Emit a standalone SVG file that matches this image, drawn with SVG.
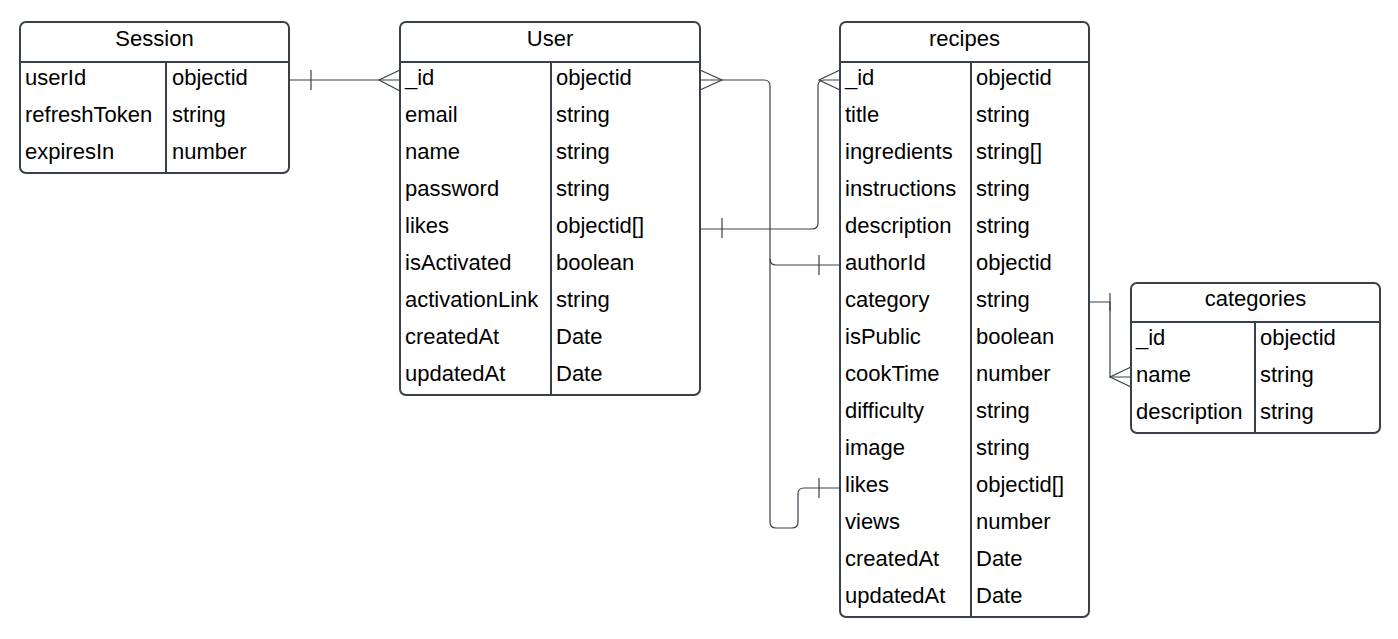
<svg xmlns="http://www.w3.org/2000/svg" width="1398" height="639" viewBox="0 0 1398 639">
<style>
.box{fill:#ffffff;stroke:#3a4049;stroke-width:2}
.ln{stroke:#3a4049;stroke-width:2;fill:none}
.t{font-family:"Liberation Sans",Arial,sans-serif;font-size:22px;fill:#000000}
.h{font-family:"Liberation Sans",Arial,sans-serif;font-size:22px;fill:#000000;text-anchor:middle}
.c{stroke:#3a4049;stroke-width:1.2;fill:none}
</style>
<rect x="0" y="0" width="1398" height="639" fill="#ffffff"/>
<g id="connectors">
  <path class="c" d="M289,80 H400"/>
  <path class="c" d="M311,70 V90"/>
  <path class="c" d="M400,70 L379,80 L400,91"/>
  <path class="c" d="M700,70 L722,80 L700,90"/>
  <path class="c" d="M700,80 H764 Q770,80 770,86 V259 Q770,265 776,265 H840"/>
  <path class="c" d="M819,255 V275"/>
  <path class="c" d="M770,259 V522 Q770,528 776,528 H792 Q798,528 798,522 V494 Q798,488 804,488 H840"/>
  <path class="c" d="M819,478 V498"/>
  <path class="c" d="M700,229 H812 Q818,229 818,223 V86 Q818,80 824,80 H840"/>
  <path class="c" d="M722,218 V238"/>
  <path class="c" d="M840,70 L819,80 L840,90"/>
  <path class="c" d="M1089,302 H1110 V377 H1131"/>
  <path class="c" d="M1110,293 V311"/>
  <path class="c" d="M1131,367 L1110,377 L1131,387"/>
</g>
<g id="Session">
  <rect class="box" x="20" y="22" width="269" height="151" rx="6"/>
  <path class="ln" d="M20,62 H289 M166,62 V173"/>
  <text class="h" x="154.5" y="46">Session</text>
  <text class="t" x="25" y="85">userId</text><text class="t" x="172" y="85">objectid</text>
  <text class="t" x="25" y="122">refreshToken</text><text class="t" x="172" y="122">string</text>
  <text class="t" x="25" y="159">expiresIn</text><text class="t" x="172" y="159">number</text>
</g>
<g id="User">
  <rect class="box" x="400" y="22" width="300" height="373" rx="6"/>
  <path class="ln" d="M400,62 H700 M551,62 V395"/>
  <text class="h" x="550" y="46">User</text>
  <text class="t" x="405" y="85">_id</text><text class="t" x="556" y="85">objectid</text>
  <text class="t" x="405" y="122">email</text><text class="t" x="556" y="122">string</text>
  <text class="t" x="405" y="159">name</text><text class="t" x="556" y="159">string</text>
  <text class="t" x="405" y="196">password</text><text class="t" x="556" y="196">string</text>
  <text class="t" x="405" y="233">likes</text><text class="t" x="556" y="233">objectid[]</text>
  <text class="t" x="405" y="270">isActivated</text><text class="t" x="556" y="270">boolean</text>
  <text class="t" x="405" y="307">activationLink</text><text class="t" x="556" y="307">string</text>
  <text class="t" x="405" y="344">createdAt</text><text class="t" x="556" y="344">Date</text>
  <text class="t" x="405" y="381">updatedAt</text><text class="t" x="556" y="381">Date</text>
</g>
<g id="recipes">
  <rect class="box" x="840" y="22" width="249" height="595" rx="6"/>
  <path class="ln" d="M840,62 H1089 M971,62 V617"/>
  <text class="h" x="964.5" y="46">recipes</text>
  <text class="t" x="845" y="85">_id</text><text class="t" x="976" y="85">objectid</text>
  <text class="t" x="845" y="122">title</text><text class="t" x="976" y="122">string</text>
  <text class="t" x="845" y="159">ingredients</text><text class="t" x="976" y="159">string[]</text>
  <text class="t" x="845" y="196">instructions</text><text class="t" x="976" y="196">string</text>
  <text class="t" x="845" y="233">description</text><text class="t" x="976" y="233">string</text>
  <text class="t" x="845" y="270">authorId</text><text class="t" x="976" y="270">objectid</text>
  <text class="t" x="845" y="307">category</text><text class="t" x="976" y="307">string</text>
  <text class="t" x="845" y="344">isPublic</text><text class="t" x="976" y="344">boolean</text>
  <text class="t" x="845" y="381">cookTime</text><text class="t" x="976" y="381">number</text>
  <text class="t" x="845" y="418">difficulty</text><text class="t" x="976" y="418">string</text>
  <text class="t" x="845" y="455">image</text><text class="t" x="976" y="455">string</text>
  <text class="t" x="845" y="492">likes</text><text class="t" x="976" y="492">objectid[]</text>
  <text class="t" x="845" y="529">views</text><text class="t" x="976" y="529">number</text>
  <text class="t" x="845" y="566">createdAt</text><text class="t" x="976" y="566">Date</text>
  <text class="t" x="845" y="603">updatedAt</text><text class="t" x="976" y="603">Date</text>
</g>
<g id="categories">
  <rect class="box" x="1131" y="283" width="249" height="150" rx="6"/>
  <path class="ln" d="M1131,322 H1380 M1255,322 V433"/>
  <text class="h" x="1255.5" y="306">categories</text>
  <text class="t" x="1136" y="345">_id</text><text class="t" x="1260" y="345">objectid</text>
  <text class="t" x="1136" y="382">name</text><text class="t" x="1260" y="382">string</text>
  <text class="t" x="1136" y="419">description</text><text class="t" x="1260" y="419">string</text>
</g>
</svg>
